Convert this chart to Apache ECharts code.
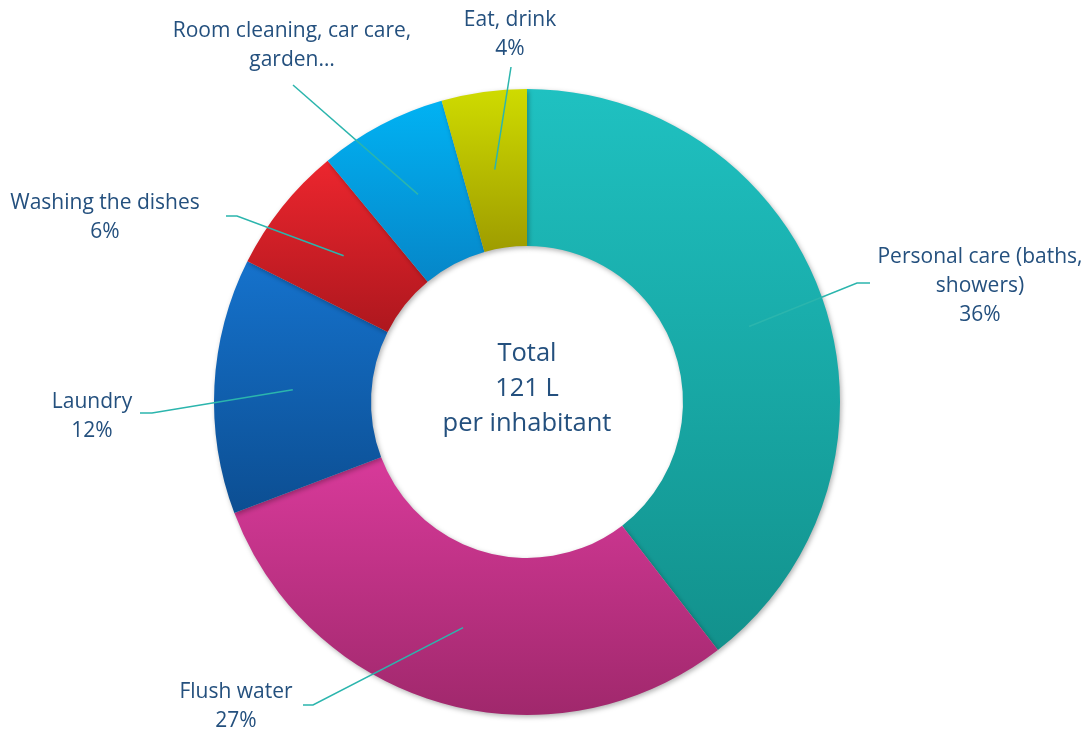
<!DOCTYPE html>
<html><head><meta charset="utf-8">
<script src="https://cdn.jsdelivr.net/npm/echarts@6/dist/echarts.min.js"></script>
<style>html,body{margin:0;padding:0;background:#fff}#c{width:1088px;height:731px}</style>
</head><body><div id="c"></div>
<script>
// ---- data ----
const categories = ['Personal care (baths,\nshowers)', 'Flush water', 'Laundry', 'Washing the dishes', 'Room cleaning, car care,\ngarden…', 'Eat, drink'];
const values = [36, 27, 12, 6, 6, 4];
const valueLabels = ['36%', '27%', '12%', '6%', '', '4%'];
const centerLines = ['Total', '121 L', 'per inhabitant'];

// ---- styles ----
const gradients = [
  ['#1fc1c1', '#12918c'],
  ['#d83a9a', '#a0286c'],
  ['#1572cc', '#0c4e92'],
  ['#ec262e', '#ae171e'],
  ['#01b2f3', '#0686c8'],
  ['#cfdb00', '#9e9c00']
];
const textColor = '#24507e';
const lineColor = '#2bb5ad';
const FONT = '"Open Sans", Lato, sans-serif';

// ---- layout (pixels, relative to donut centre) ----
const CX = 527, CY = 402, R_OUT = 313, R_IN = 156;
const R_MID = (R_OUT + R_IN) / 2;
const labelGuides = [
  { elbow: [330, -119], end: [343, -119], text: [453, -116] },
  { elbow: [-214, 303], end: [-224, 303], text: [-291, 305] },
  { elbow: [-375, 11], end: [-387, 11], text: [-435, 15] },
  { elbow: [-290, -186], end: [-301, -186], text: [-422, -184] },
  { elbow: [-234, -317], end: [-234, -317], text: [-235, -356] },
  { elbow: [-16, -335], end: [-16, -335], text: [-17, -367] }
];

const total = values.reduce((a, b) => a + b, 0);
const midAngles = [];
let acc = 0;
values.forEach(v => { midAngles.push((acc + v / 2) / total * Math.PI * 2); acc += v; });

const baseSeries = {
  type: 'pie',
  center: [CX, CY],
  radius: [R_IN, R_OUT],
  startAngle: 90,
  clockwise: true,
  avoidLabelOverlap: false,
  emphasis: { disabled: true },
  silent: true
};

const chart = echarts.init(document.getElementById('c'));
chart.setOption({
  animation: false,
  backgroundColor: '#ffffff',
  graphic: [{
    type: 'text', x: CX, y: CY - 13.5, z: 10,
    style: {
      text: centerLines.join('\n'), fill: textColor, font: '25.5px ' + FONT,
      lineHeight: 35, align: 'center', verticalAlign: 'middle'
    }
  }],
  series: [
    Object.assign({}, baseSeries, {
      z: 2,
      itemStyle: {
        borderWidth: 0,
        shadowBlur: 5, shadowOffsetX: 1.5, shadowOffsetY: 2, shadowColor: 'rgba(0,0,0,0.3)'
      },
      label: { show: false },
      labelLine: { show: false },
      data: categories.map((c, i) => ({
        name: c, value: values[i],
        itemStyle: {
          color: { type: 'linear', x: 0, y: 0, x2: 0, y2: 1,
            colorStops: [{ offset: 0, color: gradients[i][0] }, { offset: 1, color: gradients[i][1] }] }
        }
      }))
    }),
    Object.assign({}, baseSeries, {
      z: 5,
      itemStyle: { color: 'rgba(0,0,0,0)', borderWidth: 0 },
      label: {
        show: true, position: 'outside', color: textColor,
        fontFamily: FONT, fontSize: 21, lineHeight: 29, align: 'center',
        formatter: p => valueLabels[p.dataIndex] ? categories[p.dataIndex] + '\n' + valueLabels[p.dataIndex] : categories[p.dataIndex]
      },
      labelLine: { show: true, showAbove: true, length: 20, length2: 10, smooth: false, lineStyle: { color: lineColor, width: 1.5 } },
      labelLayout: function (p) {
        const i = p.dataIndex;
        const g = labelGuides[i];
        const a = midAngles[i];
        const start = [CX + R_MID * Math.sin(a), CY - R_MID * Math.cos(a)];
        const pts = [start, [CX + g.elbow[0], CY + g.elbow[1]], [CX + g.end[0], CY + g.end[1]]];
        return {
          x: CX + g.text[0], y: CY + g.text[1],
          align: 'center', verticalAlign: 'middle',
          labelLinePoints: pts
        };
      },
      data: categories.map((c, i) => ({ name: c, value: values[i] }))
    })
  ]
});
</script>
</body></html>
